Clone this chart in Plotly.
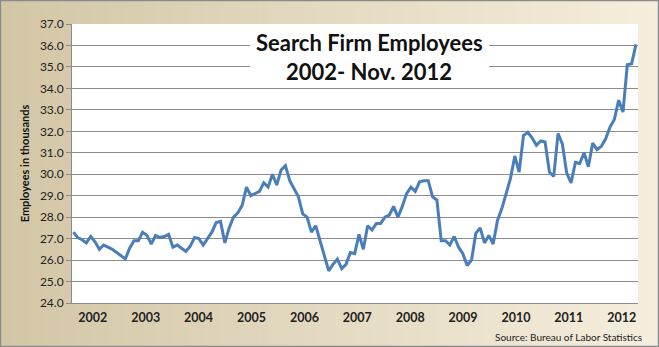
import plotly.graph_objects as go
import pandas as pd

# ---------------- data ----------------
months = pd.date_range("2002-01-01", periods=131, freq="MS").strftime("%b %Y").tolist()
employees = [
    # 2002
    27.3, 27.05, 26.95, 26.8, 27.1, 26.85, 26.5, 26.7, 26.6, 26.5, 26.35, 26.2,
    # 2003
    26.05, 26.55, 26.9, 26.9, 27.3, 27.15, 26.75, 27.15, 27.05, 27.1, 27.2, 26.6,
    # 2004
    26.7, 26.55, 26.4, 26.65, 27.05, 27.0, 26.7, 27.0, 27.3, 27.75, 27.8, 26.8,
    # 2005
    27.5, 28.0, 28.2, 28.55, 29.4, 29.0, 29.1, 29.2, 29.6, 29.4, 30.0, 29.5,
    # 2006
    30.2, 30.4, 29.7, 29.3, 28.95, 28.15, 28.0, 27.3, 27.6, 26.9, 26.2, 25.5,
    # 2007
    25.8, 26.05, 25.6, 25.8, 26.35, 26.3, 27.2, 26.5, 27.6, 27.4, 27.7, 27.7,
    # 2008
    28.0, 28.1, 28.5, 28.0, 28.5, 29.1, 29.4, 29.2, 29.65, 29.7, 29.7, 28.95,
    # 2009
    28.8, 26.9, 26.9, 26.7, 27.1, 26.6, 26.3, 25.75, 26.0, 27.25, 27.5, 26.8,
    # 2010
    27.15, 26.75, 27.85, 28.4, 29.1, 29.8, 30.85, 30.1, 31.8, 31.95, 31.7, 31.35,
    # 2011
    31.55, 31.5, 30.1, 29.9, 31.9, 31.4, 30.05, 29.6, 30.55, 30.5, 31.0, 30.35,
    # 2012 (Jan-Nov)
    31.45, 31.15, 31.3, 31.65, 32.2, 32.55, 33.45, 32.9, 35.1, 35.15, 36.05,
]
year_labels = ["2002", "2003", "2004", "2005", "2006", "2007",
               "2008", "2009", "2010", "2011", "2012"]
y_ticks = [24, 25, 26, 27, 28, 29, 30, 31, 32, 33, 34, 35, 36, 37]

# ---------------- layout helpers ----------------
W, H = 659, 347
ML, MR, MT, MB = 72, 21, 24, 44
PW, PH = W - ML - MR, H - MT - MB


def px_x(p):
    return (p - ML) / PW


def px_y(p):
    return (H - MB - p) / PH


idx = list(range(len(employees)))
tick_pos = [4.5 + 12.22 * k for k in range(len(year_labels))]

fig = go.Figure()
fig.add_trace(go.Scatter(
    x=idx, y=employees, mode="lines",
    line=dict(color="#4A7EBB", width=3),
    text=months, hovertemplate="%{text}: %{y:.1f}<extra></extra>",
    showlegend=False,
))

shapes = []
# beige gradient background (left tan -> right cream)
c0 = (211, 198, 166)
c1 = (245, 238, 221)
n = 110
for k in range(n):
    t = k / (n - 1)
    col = tuple(round(c0[j] + (c1[j] - c0[j]) * t) for j in range(3))
    x0 = W * k / n
    x1 = W * (k + 1) / n + 0.8
    shapes.append(dict(type="rect", xref="paper", yref="paper", layer="below",
                       x0=px_x(x0), x1=px_x(x1), y0=px_y(H), y1=px_y(0),
                       fillcolor="rgb(%d,%d,%d)" % col, line=dict(width=0)))
# white plot area
shapes.append(dict(type="rect", xref="paper", yref="paper", layer="below",
                   x0=0, x1=1, y0=0, y1=1, fillcolor="white", line=dict(width=0)))
# title box
shapes.append(dict(type="rect", xref="paper", yref="paper", layer="above",
                   x0=px_x(250), x1=px_x(489), y0=px_y(86), y1=px_y(29),
                   fillcolor="white", line=dict(width=0)))
# outer border
shapes.append(dict(type="rect", xref="paper", yref="paper", layer="above",
                   x0=px_x(0.6), x1=px_x(W - 0.6), y0=px_y(H - 0.6), y1=px_y(0.6),
                   fillcolor="rgba(0,0,0,0)", line=dict(color="#8A8A8A", width=1.2)))

annotations = [
    dict(text="<b>Search Firm Employees</b>", xref="paper", yref="paper",
         x=px_x(369), y=px_y(43), xanchor="center", yanchor="middle", showarrow=False,
         font=dict(family="Lato", size=22, color="#111111")),
    dict(text="<b>2002- Nov. 2012</b>", xref="paper", yref="paper",
         x=px_x(369), y=px_y(72), xanchor="center", yanchor="middle", showarrow=False,
         font=dict(family="Lato", size=22, color="#111111")),
    dict(text="Source: Bureau of Labor Statistics", xref="paper", yref="paper",
         x=px_x(644), y=px_y(337), xanchor="right", yanchor="middle", showarrow=False,
         font=dict(family="Lato", size=10, color="#222222")),
]

fig.update_layout(
    width=W, height=H,
    margin=dict(l=ML, r=MR, t=MT, b=MB, pad=0),
    paper_bgcolor="#EDE4CC", plot_bgcolor="white",
    shapes=shapes, annotations=annotations,
    font=dict(family="Lato", color="#222222"),
    xaxis=dict(
        range=[-0.32, 130.47], showgrid=False, zeroline=False,
        showline=True, linecolor="#8A8A8A", linewidth=1,
        tickmode="array", tickvals=tick_pos, ticktext=year_labels,
        ticks="", tickfont=dict(family="Lato", size=12.5, color="#222222", weight="bold"),
        ticklabelstandoff=3,
    ),
    yaxis=dict(
        range=[24, 37], tickmode="array", tickvals=y_ticks, tickformat=".1f",
        showgrid=True, gridcolor="#8C8C8C", gridwidth=1, zeroline=False,
        showline=True, linecolor="#8A8A8A", linewidth=1,
        ticks="outside", ticklen=5, tickcolor="#8A8A8A",
        tickfont=dict(family="Lato", size=12, color="#222222"),
        title=dict(text="<b>Employees in thousands</b>", standoff=8,
                   font=dict(family="Lato", size=11, color="#111111")),
    ),
)

fig.write_html("out.html")
